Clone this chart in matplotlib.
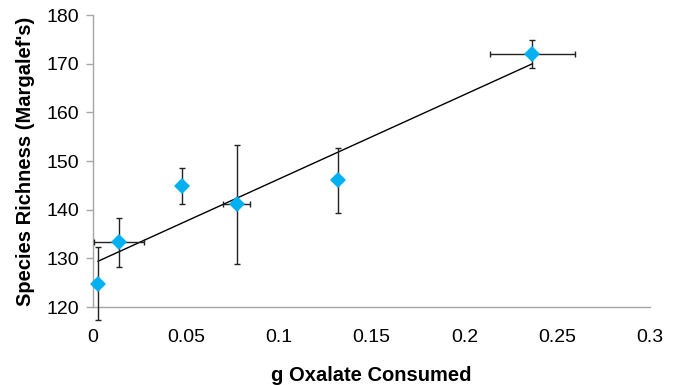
import matplotlib
matplotlib.use("Agg")
import matplotlib.pyplot as plt
import numpy as np

plt.rcParams['font.family'] = ['Liberation Sans', 'DejaVu Sans']

x_vals = [0.0027, 0.0140, 0.0478, 0.0774, 0.1317, 0.2367]
y_vals = [124.8, 133.3, 144.9, 141.1, 146.0, 172.0]
y_err = [7.5, 5.0, 3.7, 12.2, 6.6, 2.8]
x_err = [0.0, 0.0135, 0.0, 0.0074, 0.0, 0.0228]
x_ticks = [0, 0.05, 0.1, 0.15, 0.2, 0.25, 0.3]
x_tick_labels = ['0', '0.05', '0.1', '0.15', '0.2', '0.25', '0.3']
y_ticks = [120, 130, 140, 150, 160, 170, 180]

fig = plt.figure(figsize=(6.8, 3.85), dpi=100)
ax = fig.add_axes([93/680, 1-307/385, (650-93)/680, (307-15)/385])

# trendline
coef = np.polyfit(x_vals, y_vals, 1)
xl = np.array([min(x_vals), max(x_vals)])
ax.plot(xl, np.polyval(coef, xl), color='black', lw=1.0, zorder=2)

eb1 = ax.errorbar(x_vals, y_vals, yerr=y_err, fmt='none', ecolor='#222222',
                  elinewidth=1.0, capsize=2.5, capthick=1.0, zorder=3)
xs = [x for x, e in zip(x_vals, x_err) if e > 0]
ys = [y for y, e in zip(y_vals, x_err) if e > 0]
es = [e for e in x_err if e > 0]
eb2 = ax.errorbar(xs, ys, xerr=es, fmt='none', ecolor='#222222',
                  elinewidth=1.0, capsize=2.5, capthick=1.0, zorder=3)
for eb in (eb1, eb2):
    for child in eb.get_children():
        child.set_clip_on(False)
ax.plot(x_vals, y_vals, linestyle='none', marker='D', ms=8,
        color='#00b0f0', markeredgewidth=0, zorder=4, clip_on=False)

ax.set_xlim(0, 0.3)
ax.set_ylim(120, 180)
ax.set_xticks(x_ticks)
ax.set_xticklabels(x_tick_labels)
ax.set_yticks(y_ticks)
ax.tick_params(axis='x', length=0, labelsize=14, pad=16, colors='black')
ax.tick_params(axis='y', length=5, width=1, color='#a6a6a6', labelsize=14, pad=5)
for s in ['top', 'right']:
    ax.spines[s].set_visible(False)
for s in ['left', 'bottom']:
    ax.spines[s].set_color('#a6a6a6')
    ax.spines[s].set_linewidth(1.0)
ax.set_xlabel('g Oxalate Consumed', fontsize=14.5, fontweight='bold', labelpad=14)
ax.set_ylabel("Species Richness (Margalef's)", fontsize=14.5, fontweight='bold', labelpad=8)

fig.savefig('out.png', dpi=100)
